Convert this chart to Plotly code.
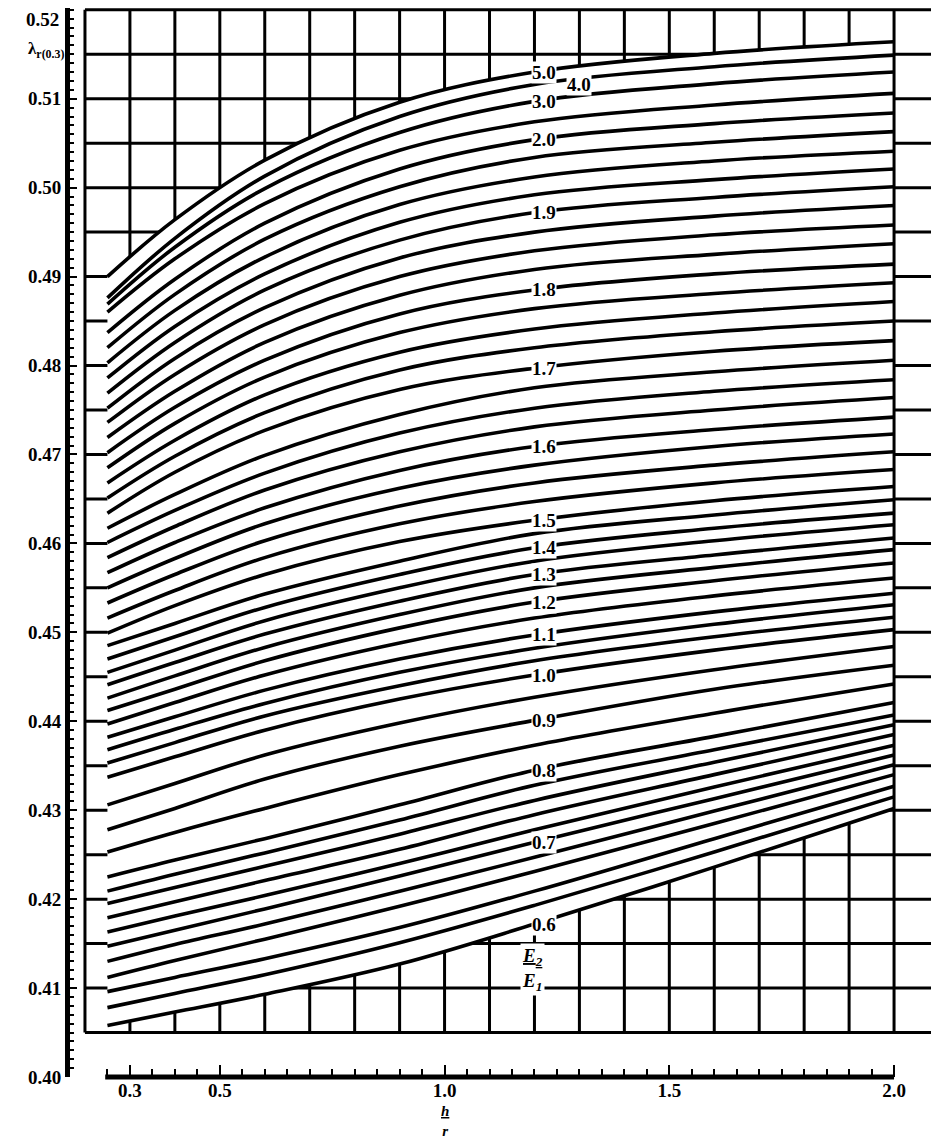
import numpy as np
import plotly.graph_objects as go

# ---------------- data ----------------
H_POINTS = [0.25, 0.4, 0.6, 0.9, 1.2, 1.6, 2.0]   # h/r

# E2/E1 ratio of every curve (top to bottom)
RATIOS = [5.0, 4.0, 3.0, 2.5,
          2.0, 1.975, 1.95, 1.925, 1.9, 1.875, 1.85, 1.825, 1.8, 1.775, 1.75, 1.725, 1.7,
          1.675, 1.65, 1.625, 1.6, 1.575, 1.55, 1.525, 1.5,
          1.45, 1.4, 1.35, 1.3, 1.25, 1.2, 1.15, 1.1, 1.067, 1.033, 1.0,
          0.95, 0.9, 0.85, 0.8, 0.78, 0.76, 0.74, 0.72, 0.7, 0.68, 0.66, 0.64, 0.62, 0.6]

# lambda values of each curve at H_POINTS
LAMBDA_TOP = [
    [0.4900, 0.4964, 0.5031, 0.5096, 0.5130, 0.5151, 0.5164],
    [0.4876, 0.4943, 0.5013, 0.5080, 0.5116, 0.5136, 0.5149],
    [0.4869, 0.4933, 0.4999, 0.5062, 0.5097, 0.5117, 0.5130],
    [0.4860, 0.4920, 0.4982, 0.5042, 0.5074, 0.5093, 0.5106],
]
LAMBDA_UPPER = [
    [0.4837, 0.4897, 0.4960, 0.5021, 0.5054, 0.5072, 0.5084],
    [0.4820, 0.4880, 0.4942, 0.5001, 0.5034, 0.5051, 0.5063],
    [0.4803, 0.4862, 0.4922, 0.4981, 0.5012, 0.5030, 0.5041],
    [0.4786, 0.4844, 0.4903, 0.4961, 0.4992, 0.5009, 0.5021],
    [0.4769, 0.4826, 0.4885, 0.4941, 0.4972, 0.4989, 0.5001],
    [0.4752, 0.4808, 0.4865, 0.4921, 0.4950, 0.4968, 0.4980],
    [0.4736, 0.4790, 0.4846, 0.4900, 0.4929, 0.4947, 0.4958],
    [0.4719, 0.4771, 0.4826, 0.4879, 0.4908, 0.4925, 0.4937],
    [0.4702, 0.4753, 0.4806, 0.4858, 0.4885, 0.4903, 0.4914],
    [0.4685, 0.4735, 0.4787, 0.4837, 0.4864, 0.4881, 0.4893],
    [0.4668, 0.4716, 0.4767, 0.4815, 0.4841, 0.4859, 0.4872],
    [0.4651, 0.4698, 0.4747, 0.4795, 0.4820, 0.4838, 0.4850],
    [0.4634, 0.4680, 0.4727, 0.4773, 0.4797, 0.4816, 0.4828],
    [0.4617, 0.4655, 0.4699, 0.4745, 0.4775, 0.4793, 0.4806],
    [0.4601, 0.4637, 0.4679, 0.4724, 0.4752, 0.4771, 0.4784],
    [0.4584, 0.4619, 0.4660, 0.4703, 0.4731, 0.4750, 0.4764],
    [0.4567, 0.4601, 0.4640, 0.4682, 0.4709, 0.4728, 0.4742],
    [0.4550, 0.4583, 0.4622, 0.4662, 0.4688, 0.4709, 0.4723],
    [0.4533, 0.4565, 0.4603, 0.4642, 0.4668, 0.4688, 0.4703],
    [0.4516, 0.4547, 0.4584, 0.4622, 0.4647, 0.4668, 0.4683],
    [0.4499, 0.4530, 0.4565, 0.4602, 0.4626, 0.4648, 0.4664],
]
LAMBDA_MIDDLE = [
    [0.4485, 0.4510, 0.4543, 0.4580, 0.4611, 0.4632, 0.4649],
    [0.4470, 0.4495, 0.4528, 0.4565, 0.4595, 0.4617, 0.4634],
    [0.4455, 0.4480, 0.4513, 0.4550, 0.4580, 0.4603, 0.4621],
    [0.4441, 0.4466, 0.4498, 0.4535, 0.4565, 0.4587, 0.4606],
    [0.4426, 0.4451, 0.4483, 0.4520, 0.4550, 0.4573, 0.4593],
    [0.4412, 0.4436, 0.4468, 0.4505, 0.4534, 0.4558, 0.4578],
    [0.4397, 0.4421, 0.4452, 0.4488, 0.4516, 0.4541, 0.4561],
    [0.4382, 0.4405, 0.4435, 0.4470, 0.4497, 0.4523, 0.4544],
    [0.4368, 0.4391, 0.4420, 0.4455, 0.4482, 0.4509, 0.4531],
    [0.4353, 0.4376, 0.4406, 0.4440, 0.4468, 0.4495, 0.4517],
    [0.4337, 0.4360, 0.4390, 0.4425, 0.4452, 0.4480, 0.4503],
]
LAMBDA_LOWER = [
    [0.4306, 0.4330, 0.4362, 0.4398, 0.4427, 0.4458, 0.4484],
    [0.4278, 0.4302, 0.4335, 0.4372, 0.4401, 0.4436, 0.4463],
    [0.4253, 0.4275, 0.4302, 0.4340, 0.4373, 0.4409, 0.4442],
    [0.4225, 0.4244, 0.4268, 0.4306, 0.4345, 0.4383, 0.4421],
    [0.4209, 0.4228, 0.4252, 0.4289, 0.4328, 0.4368, 0.4407],
    [0.4195, 0.4213, 0.4237, 0.4273, 0.4311, 0.4354, 0.4396],
    [0.4179, 0.4197, 0.4221, 0.4256, 0.4295, 0.4340, 0.4385],
    [0.4163, 0.4181, 0.4204, 0.4240, 0.4278, 0.4326, 0.4373],
    [0.4147, 0.4165, 0.4189, 0.4226, 0.4264, 0.4313, 0.4362],
    [0.4130, 0.4149, 0.4172, 0.4209, 0.4247, 0.4299, 0.4351],
    [0.4112, 0.4131, 0.4155, 0.4192, 0.4231, 0.4285, 0.4340],
    [0.4096, 0.4112, 0.4133, 0.4168, 0.4209, 0.4268, 0.4327],
    [0.4078, 0.4094, 0.4115, 0.4151, 0.4193, 0.4253, 0.4315],
    [0.4058, 0.4073, 0.4093, 0.4127, 0.4172, 0.4236, 0.4302],
]

LABELED_RATIOS = [5.0, 4.0, 3.0, 2.0, 1.9, 1.8, 1.7, 1.6, 1.5, 1.4, 1.3, 1.2, 1.1,
                  1.0, 0.9, 0.8, 0.7, 0.6]
LABEL_TEXT = ["5.0", "4.0", "3.0", "2.0", "1.9", "1.8", "1.7", "1.6", "1.5", "1.4",
              "1.3", "1.2", "1.1", "1.0", "0.9", "0.8", "0.7", "0.6"]

Y_TICKS = [0.40, 0.41, 0.42, 0.43, 0.44, 0.45, 0.46, 0.47, 0.48, 0.49, 0.50, 0.51]
Y_TOP = 0.52
X_TICKS = [0.3, 0.5, 1.0, 1.5, 2.0]
X_TICK_TEXT = ["0.3", "0.5", "1.0", "1.5", "2.0"]

# ---------------- figure ----------------
ALL_CURVES = LAMBDA_TOP + LAMBDA_UPPER + LAMBDA_MIDDLE + LAMBDA_LOWER
curve_of = dict(zip(RATIOS, ALL_CURVES))

fig = go.Figure()

# white background band behind the curve family (hides the grid)
fig.add_trace(go.Scatter(x=H_POINTS, y=curve_of[0.6], mode="lines",
                         line=dict(width=0, shape="spline", color="white"),
                         hoverinfo="skip", showlegend=False))
fig.add_trace(go.Scatter(x=H_POINTS, y=curve_of[5.0], mode="lines", fill="tonexty",
                         fillcolor="white", line=dict(width=0, shape="spline", color="white"),
                         hoverinfo="skip", showlegend=False))

for r, vals in zip(RATIOS, ALL_CURVES):
    fig.add_trace(go.Scatter(x=H_POINTS, y=vals, mode="lines", name=str(r),
                             line=dict(color="black", width=3.6, shape="spline"),
                             showlegend=False))

# grid
shapes = []
GRID_X = np.round(np.arange(0.2, 2.1001, 0.1), 2)
GRID_Y = np.round(np.arange(0.405, 0.5201, 0.005), 3)
for gx in GRID_X:
    shapes.append(dict(type="line", xref="x", yref="y", x0=gx, x1=gx, y0=0.405, y1=0.52,
                       line=dict(color="black", width=3),
                       layer="above" if abs(gx - 2.0) < 1e-6 else "below"))
for gy in GRID_Y:
    shapes.append(dict(type="line", xref="x", yref="y", x0=0.2, x1=2.1, y0=gy, y1=gy,
                       line=dict(color="black", width=3), layer="below"))
# bottom h/r ruler
shapes.append(dict(type="line", xref="x", yref="paper", x0=0.245, x1=2.0, y0=0, y1=0,
                   line=dict(color="black", width=5), layer="above"))

tick_font = dict(family="Liberation Serif", size=19, color="black", weight="bold")

# curve labels
annotations = []
label_font = dict(family="Liberation Serif", size=19, color="black", weight="bold")
for r, txt in zip(LABELED_RATIOS, LABEL_TEXT):
    hx = 1.30 if r == 4.0 else 1.222
    annotations.append(dict(x=hx, y=curve_of[r][4], xref="x", yref="y", text=txt,
                            showarrow=False, font=label_font, bgcolor="white",
                            borderpad=0, xanchor="center", yanchor="middle"))

# top tick label of the lambda scale (kept inside the page)
annotations.append(dict(x=0, y=Y_TOP, xref="paper", yref="y", xanchor="right",
                        yanchor="middle", xshift=-9, yshift=-10, text=f"{Y_TOP:.2f}",
                        showarrow=False, font=tick_font))

# E2/E1 fraction
annotations.append(dict(x=1.195, y=0.4121, xref="x", yref="y",
                        text="<i><u>E<sub>2</sub></u></i><br><i>E<sub>1</sub></i>",
                        showarrow=False, bgcolor="white", borderpad=1,
                        font=dict(family="Liberation Serif", size=19, color="black", weight="bold")))
# axis names
annotations.append(dict(x=0, y=0.5155, xref="paper", yref="y", xanchor="right",
                        xshift=-4, text="λ<sub>r(0.3)</sub>", showarrow=False,
                        font=dict(family="Liberation Serif", size=17, color="black", weight="bold")))
annotations.append(dict(x=1.0, y=0, xref="x", yref="paper", yanchor="top", yshift=-24,
                        text="<i><u>h</u></i><br><i>r</i>", showarrow=False,
                        font=dict(family="Liberation Serif", size=15, color="black", weight="bold")))

x_minor = [round(v, 2) for v in np.arange(0.25, 2.001, 0.05)
           if min(abs(v - t) for t in X_TICKS) > 1e-6]

# the page body adds an 8 px offset, so the figure is sized to fit the window
fig.update_layout(
    width=931, height=1138,
    margin=dict(l=62, r=0, t=0, b=69),
    paper_bgcolor="white", plot_bgcolor="white",
    shapes=shapes, annotations=annotations,
    xaxis=dict(range=[0.1667, 2.1], showgrid=False, zeroline=False, showline=False,
               automargin=False,
               tickmode="array", tickvals=X_TICKS, ticktext=X_TICK_TEXT,
               ticks="inside", ticklen=12, tickwidth=2, tickcolor="black",
               minor=dict(tickvals=x_minor, ticks="inside", ticklen=8, tickwidth=2,
                          tickcolor="black"),
               tickfont=tick_font),
    yaxis=dict(range=[0.40, 0.5202], showgrid=False, zeroline=False,
               automargin=False,
               showline=True, linewidth=5, linecolor="black",
               tickmode="array", tickvals=Y_TICKS, ticktext=[f"{v:.2f}" for v in Y_TICKS],
               ticks="inside", ticklen=7, tickwidth=2, tickcolor="black",
               minor=dict(dtick=0.001, tick0=0.40, ticks="inside", ticklen=4, tickwidth=2,
                          tickcolor="black"),
               tickfont=tick_font),
)

fig.write_html("out.html")
